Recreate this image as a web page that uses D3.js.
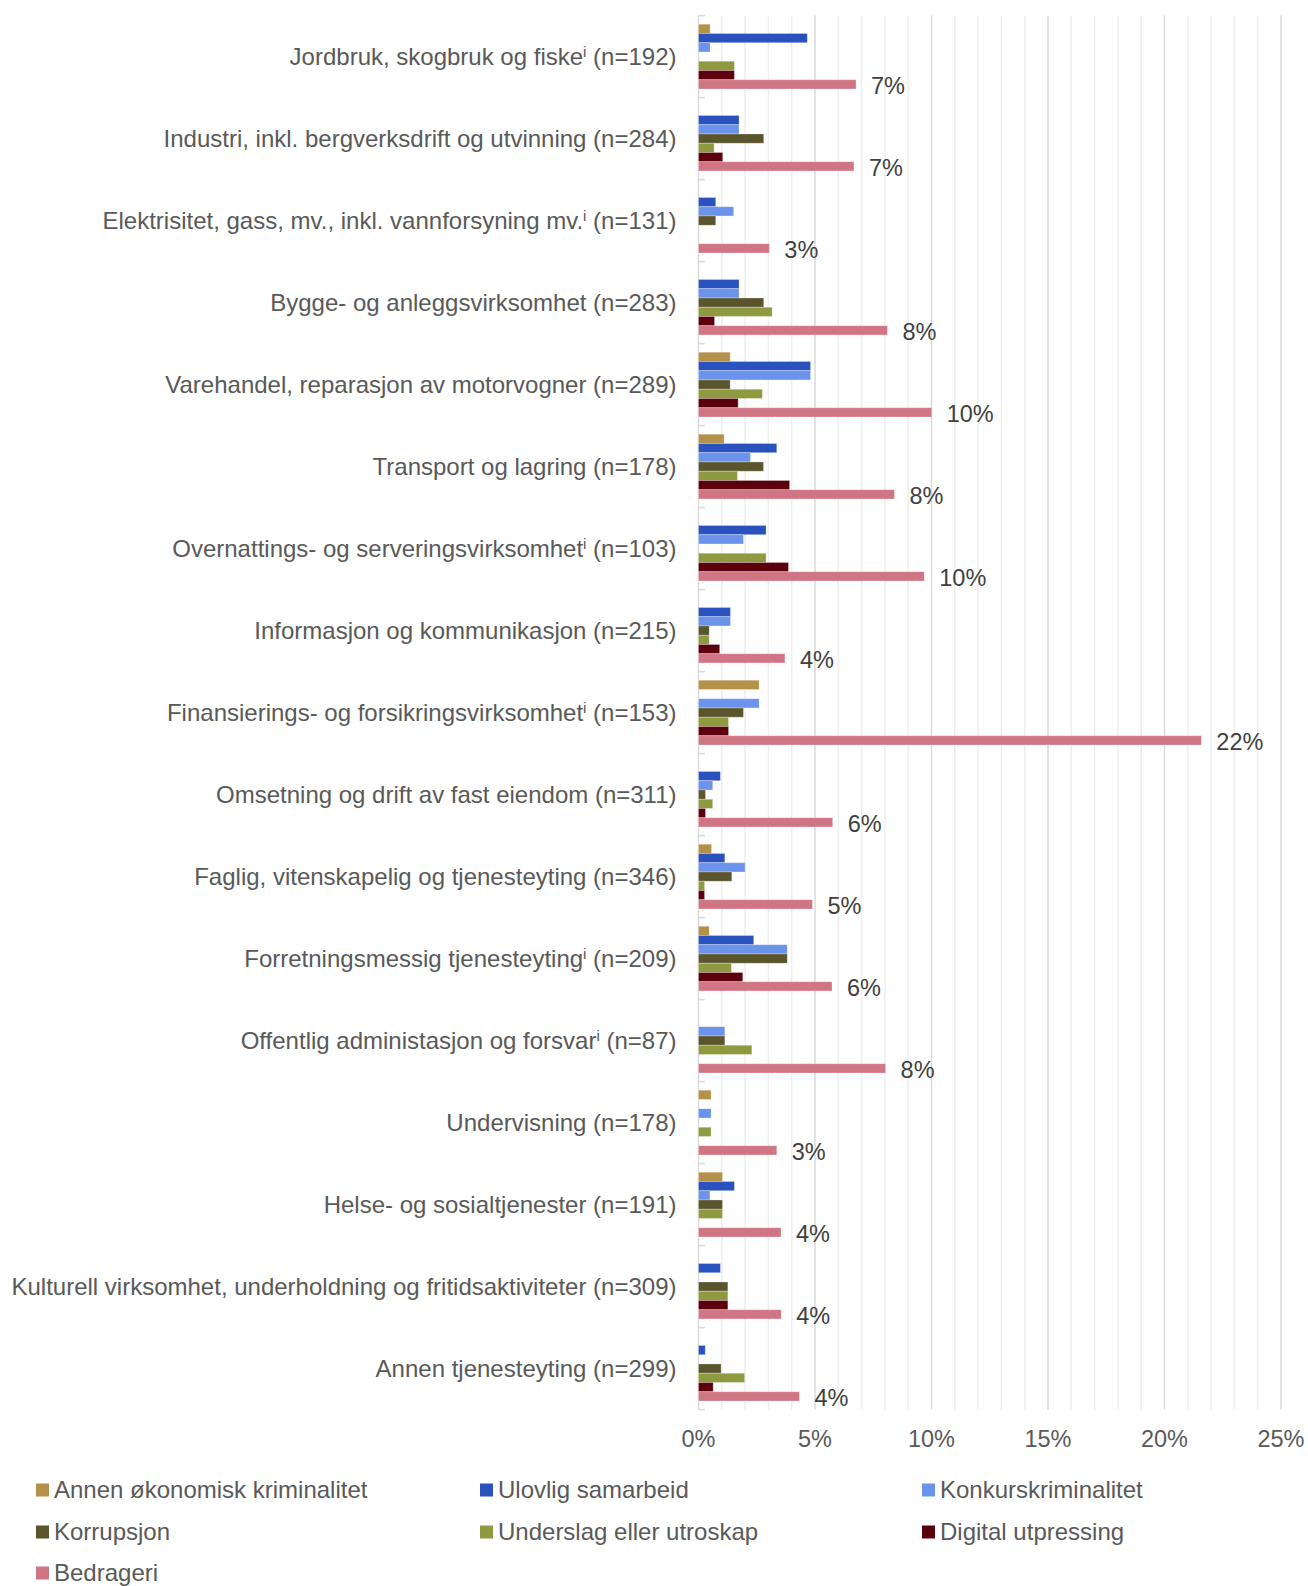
<!DOCTYPE html>
<html>
<head>
<meta charset="utf-8">
<script src="https://cdn.jsdelivr.net/npm/d3@7"></script>
<style>
  body { margin: 0; background: #ffffff; }
  svg { display: block; font-family: "Liberation Sans", Arial, sans-serif; }
</style>
</head>
<body>
<div id="chart"></div>
<script>
// categories (næringer), with n and whether they carry the "i" note
var categories = [
    'Jordbruk, skogbruk og fiske',
    'Industri, inkl. bergverksdrift og utvinning',
    'Elektrisitet, gass, mv., inkl. vannforsyning mv.',
    'Bygge- og anleggsvirksomhet',
    'Varehandel, reparasjon av motorvogner',
    'Transport og lagring',
    'Overnattings- og serveringsvirksomhet',
    'Informasjon og kommunikasjon',
    'Finansierings- og forsikringsvirksomhet',
    'Omsetning og drift av fast eiendom',
    'Faglig, vitenskapelig og tjenesteyting',
    'Forretningsmessig tjenesteyting',
    'Offentlig administasjon og forsvar',
    'Undervisning',
    'Helse- og sosialtjenester',
    'Kulturell virksomhet, underholdning og fritidsaktiviteter',
    'Annen tjenesteyting'
];
var nValues = [192, 284, 131, 283, 289, 178, 103, 215, 153, 311, 346, 209, 87, 178, 191, 309, 299];
var noteFlags = [true, false, true, false, false, false, true, false, true, false, false, true, true, false, false, false, false];

var seriesNames = [
    'Annen økonomisk kriminalitet',
    'Ulovlig samarbeid',
    'Konkurskriminalitet',
    'Korrupsjon',
    'Underslag eller utroskap',
    'Digital utpressing',
    'Bedrageri'
];
var seriesColors = ['#b39149', '#2a52be', '#6b93ec', '#5a552d', '#8f9a40', '#5c000e', '#d07583'];

// values in percent, one per category
var annen      = [0.5, 0, 0, 0, 1.36, 1.1, 0, 0, 2.6, 0, 0.56, 0.46, 0, 0.54, 1.03, 0, 0];
var ulovlig    = [4.67, 1.74, 0.74, 1.74, 4.81, 3.36, 2.9, 1.37, 0, 0.94, 1.13, 2.37, 0, 0, 1.54, 0.94, 0.29];
var konkurs    = [0.5, 1.74, 1.51, 1.74, 4.81, 2.23, 1.93, 1.37, 2.6, 0.61, 2.0, 3.81, 1.13, 0.54, 0.49, 0, 0];
var korrupsjon = [0, 2.8, 0.74, 2.8, 1.36, 2.79, 0, 0.46, 1.93, 0.3, 1.43, 3.81, 1.13, 0, 1.03, 1.26, 0.97];
var underslag  = [1.54, 0.67, 0, 3.16, 2.74, 1.67, 2.9, 0.46, 1.29, 0.61, 0.26, 1.41, 2.29, 0.54, 1.03, 1.26, 1.98];
var digital    = [1.54, 1.04, 0, 0.69, 1.7, 3.91, 3.86, 0.91, 1.29, 0.3, 0.26, 1.9, 0, 0, 0, 1.26, 0.63];
var bedrageri  = [6.76, 6.67, 3.04, 8.11, 10.01, 8.41, 9.69, 3.71, 21.58, 5.76, 4.89, 5.73, 8.03, 3.36, 3.54, 3.55, 4.33];

var xTicks = [0, 5, 10, 15, 20, 25];

var seriesValues = [annen, ulovlig, konkurs, korrupsjon, underslag, digital, bedrageri];

var width = 1308;
var height = 1586;

var plot_left = 698.5;
var plot_right = 1281;
var plot_top = 15.6;
var plot_bottom = 1409.6;

var text_color = '#595959';

var svg = d3.select('#chart')
  .append('svg')
    .attr('width', width)
    .attr('height', height);

var x = d3.scaleLinear()
    .domain([0, 25])
    .range([plot_left, plot_right]);

var y = d3.scaleBand()
    .domain(d3.range(categories.length))
    .range([plot_top, plot_bottom])
    .paddingInner(0)
    .paddingOuter(0);

var band = y.bandwidth();
var inner = d3.scaleBand()
    .domain(d3.range(seriesNames.length))
    .range([band * 0.105, band * 0.895]);

// minor grid lines every 1%
svg.append('g')
    .selectAll('line.minor')
    .data(d3.range(1, 26).filter(function(d) { return d % 5 != 0; }))
  .enter()
    .append('line')
    .attr('stroke', '#eeeeee')
    .attr('stroke-width', 1.5)
    .attr('x1', function(d) { return x(d); })
    .attr('x2', function(d) { return x(d); })
    .attr('y1', plot_top)
    .attr('y2', plot_bottom);

// major grid lines every 5%
svg.append('g')
    .selectAll('line.major')
    .data(xTicks.slice(1))
  .enter()
    .append('line')
    .attr('stroke', '#d9d9d9')
    .attr('stroke-width', 1.5)
    .attr('x1', function(d) { return x(d); })
    .attr('x2', function(d) { return x(d); })
    .attr('y1', plot_top)
    .attr('y2', plot_bottom);

// y axis line and inside ticks
svg.append('line')
    .attr('stroke', '#d9d9d9')
    .attr('stroke-width', 1.5)
    .attr('x1', plot_left)
    .attr('x2', plot_left)
    .attr('y1', plot_top)
    .attr('y2', plot_bottom);

svg.append('g')
    .selectAll('line.ytick')
    .data(d3.range(categories.length + 1))
  .enter()
    .append('line')
    .attr('stroke', '#d9d9d9')
    .attr('stroke-width', 1.5)
    .attr('x1', plot_left)
    .attr('x2', plot_left + 6.5)
    .attr('y1', function(d) { return plot_top + d * band; })
    .attr('y2', function(d) { return plot_top + d * band; });

// bars (zero values are skipped)
seriesValues.forEach(function(values, s) {
    var bars = values
        .map(function(v, i) { return {v: v, i: i}; })
        .filter(function(d) { return d.v > 0; });

    svg.append('g')
        .selectAll('rect')
        .data(bars)
      .enter()
        .append('rect')
        .attr('fill', seriesColors[s])
        .attr('stroke', 'rgba(255,255,255,0.35)')
        .attr('stroke-width', 0.8)
        .attr('x', x(0))
        .attr('y', function(d) { return y(d.i) + inner(s); })
        .attr('width', function(d) { return x(d.v) - x(0); })
        .attr('height', inner.bandwidth());
});

// data labels for Bedrageri
var last = seriesNames.length - 1;
svg.append('g')
    .selectAll('text.value')
    .data(bedrageri)
  .enter()
    .append('text')
    .attr('fill', '#404040')
    .attr('font-size', '23.5px')
    .attr('x', function(d) { return x(d) + 15; })
    .attr('y', function(d, i) { return y(i) + inner(last) + inner.bandwidth() / 2 + 3; })
    .attr('dominant-baseline', 'middle')
    .text(function(d) { return Math.round(d) + '%'; });

// category labels
var cat_labels = svg.append('g')
    .selectAll('text.cat')
    .data(categories)
  .enter()
    .append('text')
    .attr('fill', text_color)
    .attr('font-size', '24px')
    .attr('text-anchor', 'end')
    .attr('x', plot_left - 22)
    .attr('y', function(d, i) { return y(i) + band / 2 + 8; });

cat_labels.each(function(d, i) {
    var t = d3.select(this);
    t.append('tspan').text(d);
    if (noteFlags[i]) {
        t.append('tspan')
            .attr('font-size', '15px')
            .attr('dy', -8)
            .text('i');
        t.append('tspan')
            .attr('dy', 8)
            .text(' (n=' + nValues[i] + ')');
    } else {
        t.append('tspan').text(' (n=' + nValues[i] + ')');
    }
});

// x tick labels
svg.append('g')
    .selectAll('text.xtick')
    .data(xTicks)
  .enter()
    .append('text')
    .attr('fill', text_color)
    .attr('font-size', '23.5px')
    .attr('text-anchor', 'middle')
    .attr('x', function(d) { return x(d); })
    .attr('y', 1446.5)
    .text(function(d) { return d + '%'; });

// legend
var leg_cols = [36, 480, 922];
var leg_rows = [1490, 1532, 1573];
var legend = svg.append('g')
    .selectAll('g.legend')
    .data(seriesNames)
  .enter()
    .append('g')
    .attr('transform', function(d, i) {
        return 'translate(' + leg_cols[i % 3] + ',' + leg_rows[Math.floor(i / 3)] + ')';
    });

legend.append('rect')
    .attr('x', 0)
    .attr('y', -6.5)
    .attr('width', 13)
    .attr('height', 13)
    .attr('fill', function(d, i) { return seriesColors[i]; });

legend.append('text')
    .attr('fill', text_color)
    .attr('font-size', '24px')
    .attr('x', 18)
    .attr('y', 8)
    .text(function(d) { return d; });
</script>
</body>
</html>
